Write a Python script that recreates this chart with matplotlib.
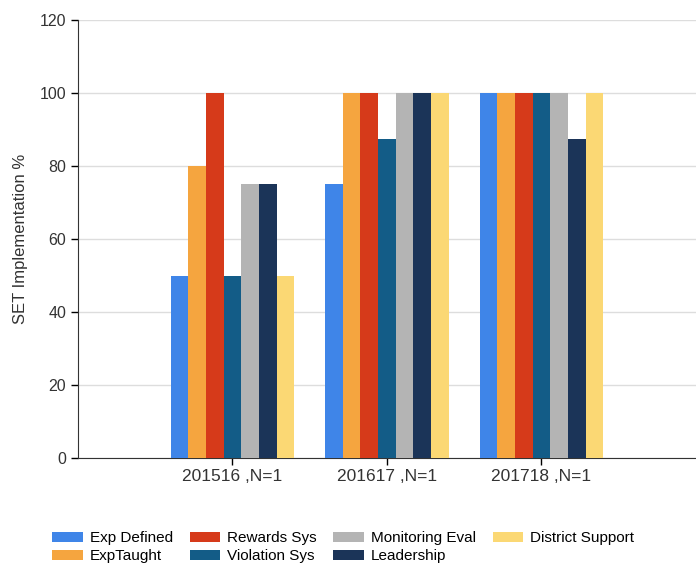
import matplotlib
matplotlib.use("Agg")
import matplotlib.pyplot as plt
import numpy as np

plt.rcParams['font.family'] = ['Liberation Sans', 'DejaVu Sans']

# Data
groups = ["201516 ,N=1", "201617 ,N=1", "201718 ,N=1"]
series = ["Exp Defined", "ExpTaught", "Rewards Sys", "Violation Sys",
          "Monitoring Eval", "Leadership", "District Support"]
exp_defined = [50, 75, 100]
exp_taught = [80, 100, 100]
rewards_sys = [100, 100, 100]
violation_sys = [50, 87.5, 100]
monitoring_eval = [75, 100, 100]
leadership = [75, 100, 87.5]
district_support = [50, 100, 100]
values = [exp_defined, exp_taught, rewards_sys, violation_sys,
          monitoring_eval, leadership, district_support]
colors = ["#3f85e8", "#f5a53f", "#d63a1a", "#135c87",
          "#b4b4b4", "#1b3458", "#fbd874"]

fig = plt.figure(figsize=(6.96, 5.65), dpi=100)
ax = fig.add_axes([0.112, 0.189, 0.888, 0.776])

x = np.arange(len(groups))
n = len(series)
w = 0.8 / n
for i, (name, vals, c) in enumerate(zip(series, values, colors)):
    ax.bar(x - 0.4 + w * (i + 0.5), vals, width=w, color=c, label=name, zorder=3)

ax.set_xlim(-1, 3)
ax.set_ylim(0, 120)
ax.set_yticks(range(0, 121, 20))
ax.set_xticks(x)
ax.set_xticklabels(groups, fontsize=12.5, color="#333333")
ax.tick_params(axis="y", labelsize=11.5, labelcolor="#333333", length=5, width=1)
ax.tick_params(axis="x", length=5, width=1, pad=3)
ax.grid(axis="y", color="#dddddd", linewidth=1, zorder=0)
ax.spines["top"].set_visible(False)
ax.spines["right"].set_visible(False)
ax.spines["left"].set_color("#333333")
ax.spines["bottom"].set_color("#333333")
ax.set_ylabel("SET Implementation %", fontsize=12, color="#333333", labelpad=8)

# Legend in column-major order: 2 rows, 4 columns
fig.legend(loc="upper left", bbox_to_anchor=(0.075, 0.06), ncol=4, frameon=False,
           fontsize=11, handlelength=2.0, handleheight=0.65, columnspacing=1.1,
           labelspacing=0.28, handletextpad=0.45, borderpad=0, borderaxespad=0)

fig.savefig("out.png", dpi=100)
